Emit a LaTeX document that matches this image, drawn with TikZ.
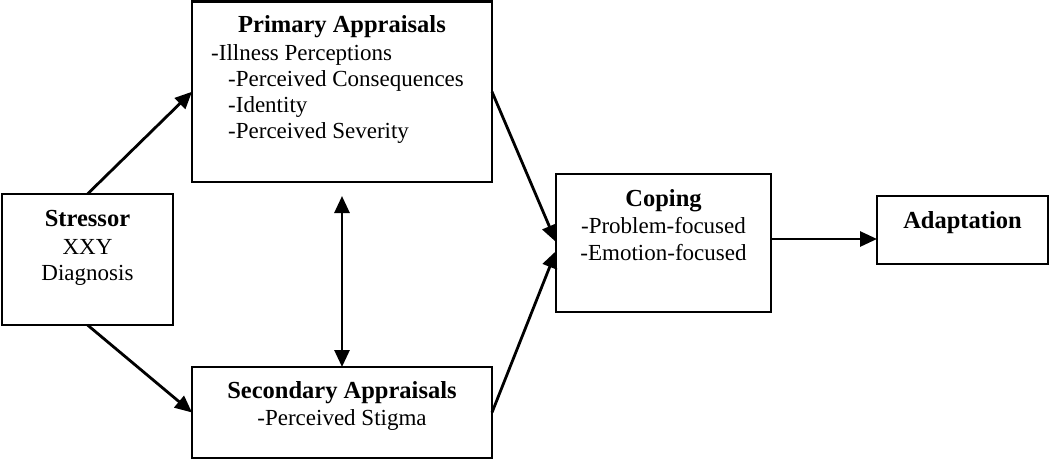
\documentclass[tikz,border=0pt]{standalone}
\usepackage{fontspec}
\setmainfont{Liberation Serif}
\usetikzlibrary{arrows.meta,calc}
\begin{document}
\begin{tikzpicture}[x=1pt,y=-1pt,
  box/.style={draw,line width=2.1pt,inner sep=0pt,outer sep=0pt},
  arr/.style={line width=2.8pt,-{Triangle[length=17pt,width=15pt]}},
  dbl/.style={line width=2.8pt,{Triangle[length=17pt,width=15pt]}-{Triangle[length=17pt,width=15pt]}},
  ttl/.style={font=\fontsize{24.5}{27}\selectfont\bfseries,anchor=base,inner sep=0pt},
  txt/.style={font=\fontsize{23}{27}\selectfont,anchor=base,inner sep=0pt},
  txtl/.style={txt,anchor=base west},
]
\useasboundingbox (0,0) rectangle (1050,460);
% boxes
\node[box,minimum width=171pt,minimum height=131pt] (stressor) at (87.5,259.5) {};
\node[box,minimum width=300pt,minimum height=180.5pt] (prim) at (342,91.75) {};
\node[box,minimum width=300pt,minimum height=91pt] (sec) at (342,412.5) {};
\node[box,minimum width=215pt,minimum height=138pt] (coping) at (663.5,243) {};
\node[box,minimum width=171pt,minimum height=68pt] (adapt) at (962.5,230) {};
% texts
\node[ttl] (stT) at (87.5,226) {Stressor};
\node[txt] (stA) at (87.5,254) {XXY};
\node[txt] (stB) at (87.5,280) {Diagnosis};
\node[ttl] (prT) at (342,33) {Primary Appraisals};
\node[txtl] (prA) at (211,60) {-Illness Perceptions};
\node[txtl] (prB) at (228,87) {-Perceived Consequences};
\node[txtl] (prC) at (228,113) {-Identity};
\node[txtl] (prD) at (228,139) {-Perceived Severity};
\node[ttl] (seT) at (342,398) {Secondary Appraisals};
\node[txt] (seA) at (342,425) {-Perceived Stigma};
\node[ttl] (coT) at (663.5,206) {Coping};
\node[txt] (coA) at (663.5,233) {-Problem-focused};
\node[txt] (coB) at (663.5,260) {-Emotion-focused};
\node[ttl] (adT) at (962.5,228) {Adaptation};
% connectors
\draw[arr] (stressor.north) -- (prim.west);
\draw[arr] (stressor.south) -- (sec.west);
\draw[arr] (prim.east) -- ($(coping.west)+(0,-1)$);
\draw[arr] (sec.east) -- ($(coping.west)+(0,8)$);
\coordinate (dtop) at ($(prim.south)+(0,14)$);
\draw[dbl] (dtop) -- (sec.north);
\draw[arr] ($(coping.east)+(0,-4)$) -- ($(adapt.west)+(0,9)$);
\end{tikzpicture}
\end{document}
